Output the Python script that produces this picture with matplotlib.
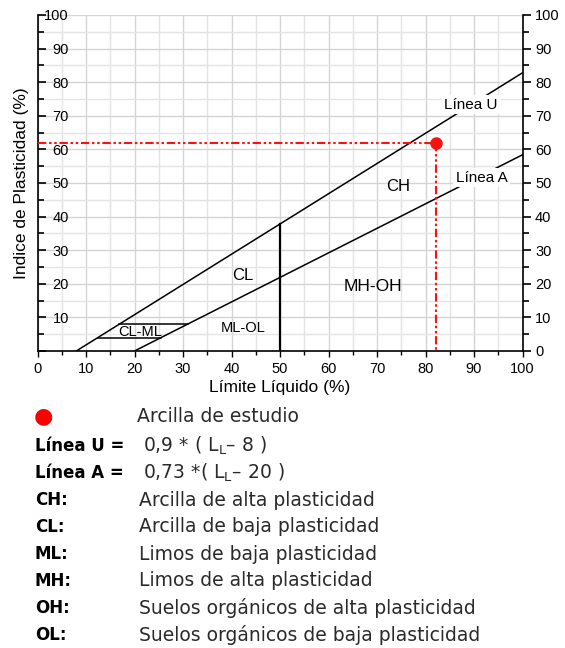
import matplotlib
matplotlib.use("Agg")
import matplotlib.pyplot as plt
from matplotlib.ticker import MultipleLocator

# ---- data ----
u_line_ll = [8, 100]
u_line_pi = [0, 82.8]
a_line_ll = [20, 100]
a_line_pi = [0, 58.4]
split_ll = [50, 50]
split_pi = [0, 37.8]
clml_top_ll = [16.9, 31.0]
clml_top_pi = [8, 8]
clml_bot_ll = [12.4, 25.5]
clml_bot_pi = [4, 4]
sample_ll = 82.2
sample_pi = 62.0

zone_names = ["CH", "CL", "ML-OL", "MH-OH", "CL-ML"]
zone_ll = [74.3, 42.3, 42.4, 69.1, 21.1]
zone_pi = [49.1, 22.6, 6.9, 19.3, 5.8]
zone_sizes = [12, 12, 10.5, 12.5, 10.5]

line_names = ["Línea U", "Línea A"]
line_label_ll = [89.4, 91.6]
line_label_pi = [73.3, 51.6]

ticks = list(range(0, 101, 10))

legend_keys = ["Línea U =", "Línea A =", "CH:", "CL:", "ML:", "MH:", "OH:", "OL:"]
legend_vals = ["0,9 * ( $\\mathregular{L_L}$– 8 )",
               "0,73 *( $\\mathregular{L_L}$– 20 )",
               "Arcilla de alta plasticidad",
               "Arcilla de baja plasticidad",
               "Limos de baja plasticidad",
               "Limos de alta plasticidad",
               "Suelos orgánicos de alta plasticidad",
               "Suelos orgánicos de baja plasticidad"]
sample_label = "Arcilla de estudio"

W, H = 565, 648
fig = plt.figure(figsize=(W / 100, H / 100), dpi=100)
plt.rcParams['font.family'] = ['Liberation Sans', 'DejaVu Sans']

ax = fig.add_axes([37.5 / W, 1 - 351 / H, 485 / W, 336 / H])
ax.set_xlim(0, 100)
ax.set_ylim(0, 100)

# grid every 5
ax.xaxis.set_minor_locator(MultipleLocator(5))
ax.yaxis.set_minor_locator(MultipleLocator(5))
ax.set_xticks(ticks)
ax.set_yticks(ticks)
ax.grid(True, which='major', color='#d4d4d4', lw=1.0, zorder=0)
ax.grid(True, which='minor', color='#e4e4e4', lw=1.0, zorder=0)
ax.set_axisbelow(True)

ax.spines['top'].set_visible(False)
ax.spines['right'].set_visible(False)
for s in ['left', 'bottom']:
    ax.spines[s].set_linewidth(1.2)

ax.tick_params(axis='x', which='major', direction='out', length=4, width=1, labelsize=10.5, pad=4)
ax.tick_params(axis='x', which='minor', direction='out', length=3, width=1)
ax.tick_params(axis='y', which='major', direction='in', length=6, width=1.2, labelsize=10.5, pad=-22.5)
ax.tick_params(axis='y', which='minor', direction='in', length=4, width=1.2)
ax.set_xticklabels([str(t) for t in ticks])
ax.set_yticklabels([""] + [str(t) for t in ticks[1:]])

# right axis
ax2 = ax.twinx()
ax2.set_ylim(0, 100)
ax2.set_yticks(ticks)
ax2.yaxis.set_minor_locator(MultipleLocator(5))
ax2.set_yticklabels([str(t) for t in ticks])
ax2.tick_params(axis='y', which='major', direction='out', length=6, width=1.2, labelsize=10.5, pad=3)
ax2.tick_params(axis='y', which='minor', direction='out', length=4, width=1.2)
for s in ['top', 'left', 'bottom']:
    ax2.spines[s].set_visible(False)
ax2.spines['right'].set_linewidth(1.2)

# lines
ax.plot(u_line_ll, u_line_pi, color='black', lw=1.1, zorder=3)
ax.plot(a_line_ll, a_line_pi, color='black', lw=1.1, zorder=3)
ax.plot(split_ll, split_pi, color='black', lw=1.6, zorder=3)
ax.plot(clml_top_ll, clml_top_pi, color='black', lw=1.1, zorder=3)
ax.plot(clml_bot_ll, clml_bot_pi, color='black', lw=1.1, zorder=3)

# sample
dash = (0, (4, 1.3, 1.2, 1.3, 1.2, 1.3))
ax.plot([0, sample_ll], [sample_pi, sample_pi], color='#ff1010', lw=1.5, ls=dash, zorder=4)
ax.plot([sample_ll, sample_ll], [sample_pi, 0], color='#ff1010', lw=1.5, ls=dash, zorder=4)
ax.plot([sample_ll], [sample_pi], 'o', color='#ff1010', ms=8, zorder=5, clip_on=False)

for n, x, y, s in zip(zone_names, zone_ll, zone_pi, zone_sizes):
    ax.text(x, y, n, ha='center', va='center', fontsize=s, zorder=6)
for n, x, y in zip(line_names, line_label_ll, line_label_pi):
    ax.text(x, y, n, ha='center', va='center', fontsize=11, zorder=6,
            bbox=dict(facecolor='white', edgecolor='none', pad=2))

ax.set_xlabel("Límite Líquido (%)", fontsize=12.5, labelpad=3)
fig.text(22 / W, 1 - 183 / H, "Indice de Plasticidad (%)", rotation=90,
         ha='center', va='center', fontsize=12.5)

# legend block
lf = ['DejaVu Sans']
fig.text(43 / W, 1 - 416 / H, "●", color='#ff0000', fontsize=16, ha='center', va='center', family=lf)
fig.text(137 / W, 1 - 417 / H, sample_label, fontsize=13.5, ha='left', va='center', family=lf, color='#2a2a2a')
rows_y = [446, 473, 500, 527, 554, 581, 608, 635]
for k, v, y in zip(legend_keys, legend_vals, rows_y):
    fig.text(35 / W, 1 - y / H, k, fontsize=12, fontweight='bold', ha='left', va='center', family=lf)
    xv = 143 if k.startswith("Línea") else 139
    fig.text(xv / W, 1 - y / H, v, fontsize=13.5, ha='left', va='center', family=lf, color='#2a2a2a')

fig.savefig("out.png", dpi=100)
